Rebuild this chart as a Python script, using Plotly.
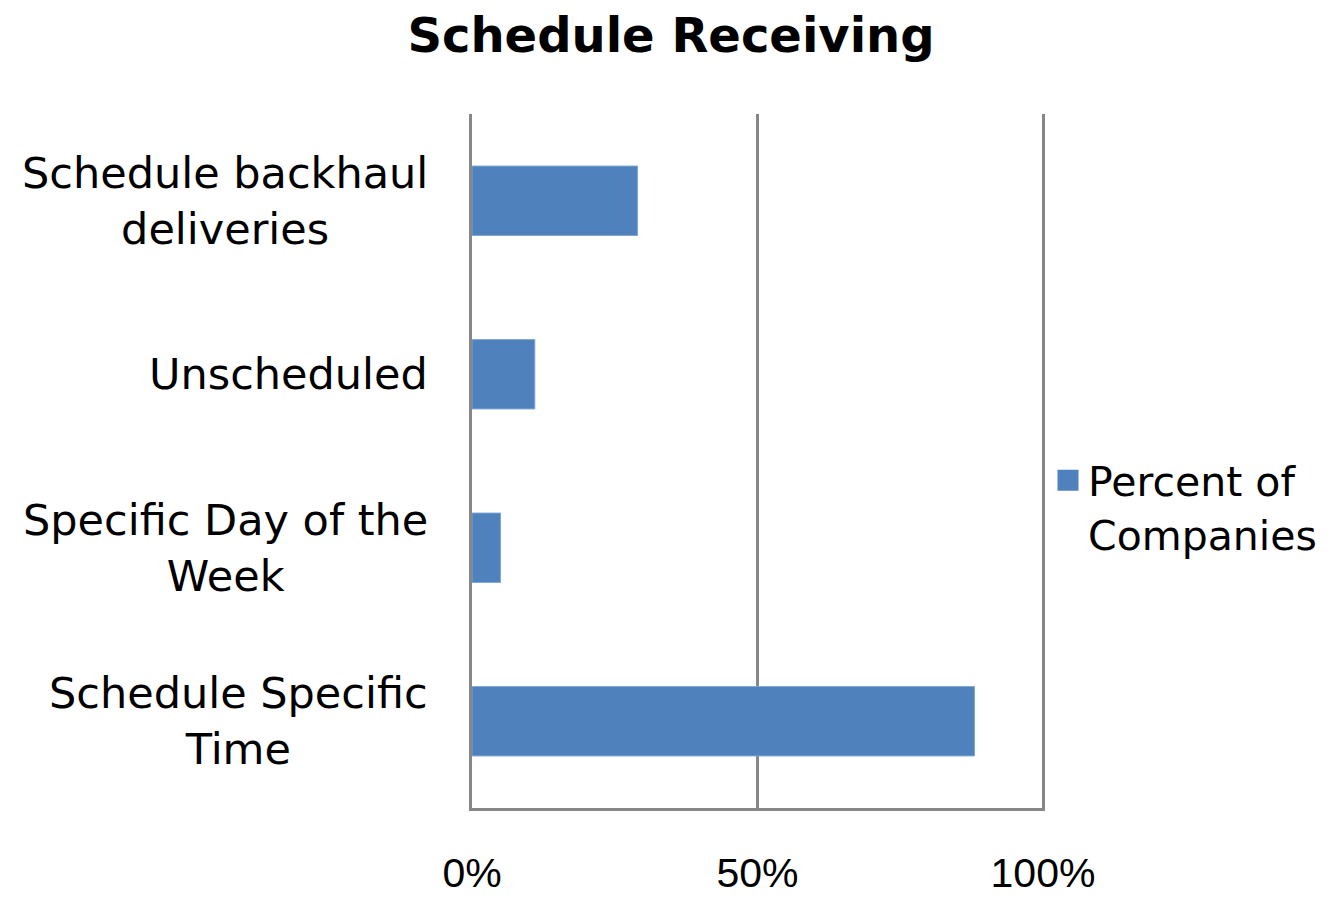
import plotly.graph_objects as go

# Categories listed bottom-to-top (Plotly categorical y axis order)
categories = ["Schedule Specific Time", "Specific Day of the Week", "Unscheduled", "Schedule backhaul deliveries"]
category_labels = ["Schedule Specific<br>Time", "Specific Day of the<br>Week", "Unscheduled", "Schedule backhaul<br>deliveries"]
values = [0.88, 0.05, 0.11, 0.29]
series_name = "Percent of<br>Companies"
x_ticks = [0, 0.5, 1.0]

BAR_COLOR = "#4F81BD"
AXIS_COLOR = "#878787"

# page has an 8px body margin -> figure is 8px smaller and offsets are relative to it
W, H = 1326, 894
L, T = 464, 106
PLOT_W = 573
B = 94

fig = go.Figure()
fig.add_trace(go.Bar(
    y=categories, x=values, orientation="h", name=series_name,
    marker=dict(color=BAR_COLOR, line=dict(color="#7EA6D6", width=1)),
    showlegend=False,
))
# legend proxy so the legend square can be drawn larger than the fixed bar swatch
fig.add_trace(go.Scatter(
    x=[None], y=[None], mode="markers", name=series_name,
    marker=dict(symbol="square", size=16, color=BAR_COLOR, line=dict(color=BAR_COLOR, width=5)),
    showlegend=True, hoverinfo="skip",
))

annotations = []
for cat, lab in zip(categories, category_labels):
    annotations.append(dict(
        xref="paper", yref="y", x=0, y=cat, xanchor="right", yanchor="middle",
        xshift=-42, text=lab, align="center", showarrow=False,
        font=dict(family="DejaVu Sans", size=43, color="black"),
    ))

fig.update_layout(
    width=W, height=H,
    margin=dict(l=L, r=W - L - PLOT_W, t=T, b=B, autoexpand=False),
    paper_bgcolor="white", plot_bgcolor="white",
    title=dict(text="<b>Schedule Receiving</b>", x=0.5, xanchor="center",
               y=1 - 27 / H, yanchor="middle",
               font=dict(family="DejaVu Sans", size=48, color="black")),
    bargap=0.6,
    xaxis=dict(range=[0, 1.0035], tickvals=x_ticks, tickformat=".0%",
               showgrid=True, gridcolor=AXIS_COLOR, gridwidth=3,
               zeroline=False, showline=True, linecolor=AXIS_COLOR, linewidth=3,
               ticks="", ticklabelstandoff=27, automargin=False,
               tickfont=dict(family="Liberation Sans", size=41, color="black")),
    yaxis=dict(showline=True, linecolor=AXIS_COLOR, linewidth=3, layer="below traces",
               showticklabels=False, ticks="", showgrid=False, zeroline=False,
               automargin=False,
               categoryorder="array", categoryarray=categories),
    legend=dict(x=(1040 - L) / PLOT_W, xanchor="left", y=0.52, yanchor="top",
                valign="top", itemsizing="trace",
                font=dict(family="DejaVu Sans", size=41, color="black"),
                bgcolor="rgba(0,0,0,0)"),
    annotations=annotations,
)

fig.write_html("out.html")
